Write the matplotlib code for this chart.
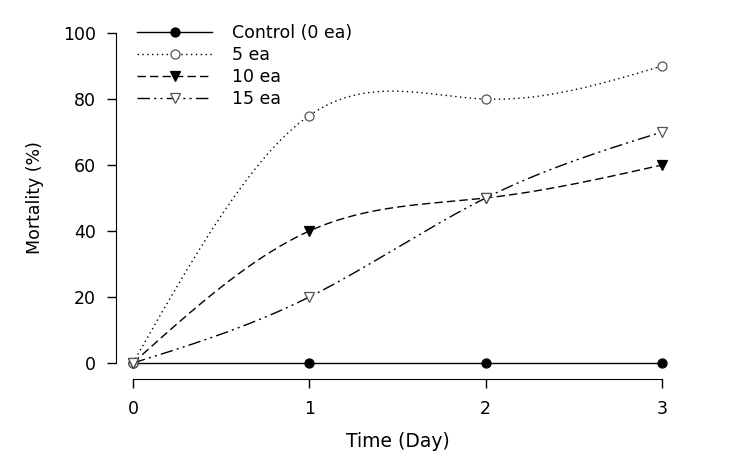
import numpy as np
import matplotlib.pyplot as plt

plt.rcParams['font.family'] = ['DejaVu Sans']

# data
days = [0, 1, 2, 3]
control = [0, 0, 0, 0]
ea5 = [0, 75, 80, 90]
ea10 = [0, 40, 50, 60]
ea15 = [0, 20, 50, 70]


# natural cubic spline, only used to draw smooth lines through the points
def spline(x, y, n=200):
    x = np.asarray(x, float)
    y = np.asarray(y, float)
    k = len(x)
    h = np.diff(x)
    A = np.zeros((k, k))
    b = np.zeros(k)
    A[0, 0] = A[-1, -1] = 1
    for i in range(1, k - 1):
        A[i, i - 1] = h[i - 1]
        A[i, i] = 2 * (h[i - 1] + h[i])
        A[i, i + 1] = h[i]
        b[i] = 6 * ((y[i + 1] - y[i]) / h[i] - (y[i] - y[i - 1]) / h[i - 1])
    M = np.linalg.solve(A, b)
    xs = np.linspace(x[0], x[-1], n)
    idx = np.clip(np.searchsorted(x, xs) - 1, 0, k - 2)
    x0, x1 = x[idx], x[idx + 1]
    hh = x1 - x0
    t0 = x1 - xs
    t1 = xs - x0
    ys = (M[idx] * t0**3 + M[idx + 1] * t1**3) / (6 * hh) \
        + (y[idx] / hh - M[idx] * hh / 6) * t0 \
        + (y[idx + 1] / hh - M[idx + 1] * hh / 6) * t1
    return xs, ys


fig = plt.figure(figsize=(7.29, 4.67), dpi=100)
ax = fig.add_axes([0.1824, 0.2227, 0.7257, 0.7066])

series = [
    ('Control (0 ea)', control, '-', 'o', 'black', 'black'),
    ('5 ea', ea5, (0, (1, 2.5)), 'o', 'white', '#555555'),
    ('10 ea', ea10, (0, (6, 3)), 'v', 'black', 'black'),
    ('15 ea', ea15, (0, (9, 3, 1.5, 3, 1.5, 3)), 'v', 'white', '#555555'),
]

for label, vals, ls, mk, fc, ec in series:
    xs, ys = spline(days, vals)
    ax.plot(xs, ys, color='black', linestyle=ls, linewidth=1.0, clip_on=False)
    ax.plot(days, vals, linestyle='none', marker=mk, markersize=6.5,
            markerfacecolor=fc, markeredgecolor=ec, markeredgewidth=0.9,
            clip_on=False, zorder=3)
    ax.plot([], [], color='black', linestyle=ls, linewidth=1.0, marker=mk,
            markersize=6.5, markerfacecolor=fc, markeredgecolor=ec,
            markeredgewidth=0.9, label=label)

ax.set_xlim(0, 3)
ax.set_ylim(0, 100)
ax.set_xticks(days)
ax.set_yticks([0, 20, 40, 60, 80, 100])
ax.spines['top'].set_visible(False)
ax.spines['right'].set_visible(False)
ax.spines['left'].set_position(('outward', 12))
ax.spines['bottom'].set_position(('outward', 11.5))
ax.tick_params(direction='out', length=6.5, width=1, labelsize=12.5)
ax.tick_params(axis='y', pad=8)
ax.tick_params(axis='x', pad=9)
ax.set_xlabel('Time (Day)', fontsize=13.5, labelpad=10)
ax.set_ylabel('Mortality (%)', fontsize=12.5, labelpad=14)

ax.legend(loc='upper left', bbox_to_anchor=(-0.005, 1.047), frameon=False,
          fontsize=12.5, handlelength=4.3, handletextpad=1.15, labelspacing=0.22,
          borderaxespad=0)

fig.savefig('out.png', dpi=100)
